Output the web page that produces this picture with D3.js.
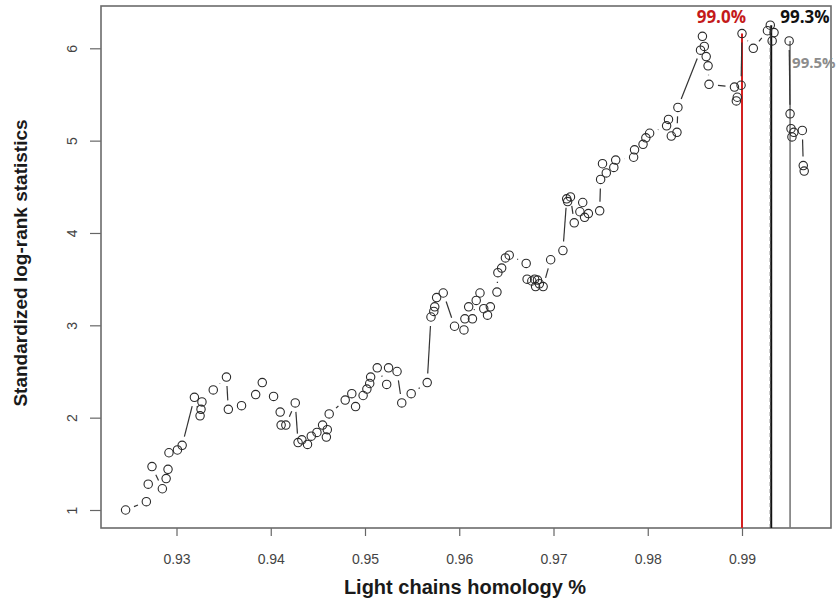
<!DOCTYPE html>
<html>
<head>
<meta charset="utf-8">
<script src="https://cdn.jsdelivr.net/npm/d3@7"></script>
<style>
  html, body { margin: 0; padding: 0; background: #fff; }
  svg { display: block; }
</style>
</head>
<body>
<svg id="chart" width="838" height="606"></svg>
<script>
// Light-chain homology cut-off vs standardized log-rank statistic
const homology = [
  0.9246, 0.9268, 0.9270, 0.9274, 0.9285, 0.9289, 0.9291, 0.9292, 0.9301, 0.9306,
  0.9319, 0.9325, 0.9326, 0.9327, 0.9339, 0.9353, 0.9355, 0.9369, 0.9384, 0.9391,
  0.9403, 0.9410, 0.9411, 0.9416, 0.9426, 0.9429, 0.9433, 0.9439, 0.9443, 0.9449,
  0.9455, 0.9459, 0.9460, 0.9462, 0.9479, 0.9486, 0.9490, 0.9498, 0.9502, 0.9505,
  0.9506, 0.9513, 0.9523, 0.9525, 0.9534, 0.9539, 0.9549, 0.9566, 0.9570, 0.9573,
  0.9574, 0.9576, 0.9583, 0.9595, 0.9605, 0.9606, 0.9610, 0.9614, 0.9618, 0.9622,
  0.9626, 0.9630, 0.9633, 0.9640, 0.9641, 0.9645, 0.9649, 0.9653, 0.9671, 0.9672,
  0.9677, 0.9680, 0.9681, 0.9683, 0.9685, 0.9689, 0.9697, 0.9710, 0.9714, 0.9715,
  0.9718, 0.9722, 0.9728, 0.9731, 0.9733, 0.9737, 0.9749, 0.9750, 0.9752, 0.9756,
  0.9764, 0.9766, 0.9785, 0.9786, 0.9795, 0.9798, 0.9802, 0.9820, 0.9822, 0.9825,
  0.9831, 0.9832, 0.9856, 0.9858, 0.9860, 0.9862, 0.9864, 0.9865, 0.9892, 0.9894,
  0.9895, 0.9899, 0.9900, 0.9912, 0.9927, 0.9930, 0.9932, 0.9934, 0.9950, 0.9951,
  0.9952, 0.9953, 0.9955, 0.9964, 0.9965, 0.9966
];
const logRank = [
  1.00, 1.09, 1.28, 1.47, 1.23, 1.34, 1.44, 1.62, 1.65, 1.70,
  2.22, 2.02, 2.09, 2.17, 2.30, 2.44, 2.09, 2.13, 2.25, 2.38,
  2.23, 2.06, 1.92, 1.92, 2.16, 1.73, 1.76, 1.71, 1.80, 1.84,
  1.92, 1.79, 1.87, 2.04, 2.19, 2.26, 2.12, 2.24, 2.31, 2.37,
  2.44, 2.54, 2.36, 2.54, 2.50, 2.16, 2.26, 2.38, 3.09, 3.15,
  3.20, 3.30, 3.35, 2.99, 2.95, 3.07, 3.20, 3.07, 3.27, 3.35,
  3.18, 3.11, 3.20, 3.36, 3.57, 3.62, 3.73, 3.76, 3.67, 3.50,
  3.48, 3.50, 3.42, 3.49, 3.45, 3.42, 3.71, 3.81, 4.37, 4.34,
  4.39, 4.11, 4.23, 4.33, 4.17, 4.21, 4.24, 4.58, 4.75, 4.65,
  4.71, 4.79, 4.82, 4.90, 4.96, 5.03, 5.08, 5.16, 5.23, 5.05,
  5.09, 5.36, 5.98, 6.13, 6.02, 5.91, 5.81, 5.61, 5.58, 5.43,
  5.47, 5.60, 6.16, 6.00, 6.19, 6.25, 6.08, 6.17, 6.08, 5.29,
  5.13, 5.04, 5.09, 5.11, 4.73, 4.67
];

// Highlighted cut-offs: position, label, height of the marker line
const cutoffs = [0.9900, 0.9931, 0.9951];
const cutoffLabels = ["99.0%", "99.3%", "99.5%"];
const cutoffTops = [6.16, 6.25, 6.08];

const xTicks = [0.93, 0.94, 0.95, 0.96, 0.97, 0.98, 0.99];
const yTicks = [1, 2, 3, 4, 5, 6];

const points = homology.map((h, i) => ({ x: h, y: logRank[i] }));

const svg = d3.select("#chart");
const frame = { left: 101, right: 831, top: 6, bottom: 528 };

const x = d3.scaleLinear().domain([0.93, 0.99]).range([176.5, 742]);
const y = d3.scaleLinear().domain([1, 6]).range([510, 48.3]);

const axisFont = "'Liberation Sans', Arial, sans-serif";

// Axes
const xAxis = svg.append("g")
  .attr("transform", `translate(0,${frame.bottom})`)
  .call(d3.axisBottom(x).tickValues(xTicks).tickFormat(d3.format(".2f")).tickSize(8).tickPadding(18));
const yAxis = svg.append("g")
  .attr("transform", `translate(${frame.left},0)`)
  .call(d3.axisLeft(y).tickValues(yTicks).tickFormat(d3.format("d")).tickSize(11).tickPadding(8));

[xAxis, yAxis].forEach(g => {
  g.select(".domain").remove();
  g.selectAll(".tick line").attr("stroke", "#666").attr("stroke-width", 1.2);
  g.selectAll(".tick text")
    .attr("fill", "#444")
    .style("font-family", axisFont)
    .style("font-size", "14px");
});
xAxis.selectAll(".tick text").attr("dy", "0.71em");
// rotated tick labels on the value axis
yAxis.selectAll(".tick text")
  .attr("text-anchor", "middle")
  .attr("x", 0)
  .attr("y", 0)
  .attr("dy", "0.35em")
  .attr("transform", "translate(-29,0) rotate(-90)");

// Plot frame
svg.append("rect")
  .attr("x", frame.left)
  .attr("y", frame.top)
  .attr("width", frame.right - frame.left)
  .attr("height", frame.bottom - frame.top)
  .attr("fill", "none")
  .attr("stroke", "#6b6b6b")
  .attr("stroke-width", 1.6);

// Cut-off marker lines
const cutColors = ["#d42020", "#111111", "#7a7a7a"];
const cutWidths = [2, 2, 1.6];
cutoffs.forEach((c, i) => {
  svg.append("line")
    .attr("x1", x(c)).attr("x2", x(c))
    .attr("y1", frame.bottom).attr("y2", y(cutoffTops[i]))
    .attr("stroke", cutColors[i])
    .attr("stroke-width", cutWidths[i]);
});
// dashed overlay on the 99.3% marker
svg.append("line")
  .attr("x1", x(cutoffs[1]) - 1).attr("x2", x(cutoffs[1]) - 1)
  .attr("y1", frame.bottom).attr("y2", y(cutoffTops[1]))
  .attr("stroke", "#555")
  .attr("stroke-width", 1)
  .attr("stroke-dasharray", "4,3");

// Connecting segments with gaps around each point (type "b" style)
const gap = 9;
const segs = [];
for (let i = 1; i < points.length; i++) {
  const x0 = x(points[i - 1].x), y0 = y(points[i - 1].y);
  const x1 = x(points[i].x), y1 = y(points[i].y);
  const d = Math.hypot(x1 - x0, y1 - y0);
  if (d > 2 * gap) {
    const ux = (x1 - x0) / d, uy = (y1 - y0) / d;
    segs.push([x0 + ux * gap, y0 + uy * gap, x1 - ux * gap, y1 - uy * gap]);
  }
}
svg.append("g")
  .selectAll("line")
  .data(segs)
  .join("line")
  .attr("x1", d => d[0]).attr("y1", d => d[1])
  .attr("x2", d => d[2]).attr("y2", d => d[3])
  .attr("stroke", "#333")
  .attr("stroke-width", 1.2);

// Points
svg.append("g")
  .selectAll("circle")
  .data(points)
  .join("circle")
  .attr("cx", d => x(d.x))
  .attr("cy", d => y(d.y))
  .attr("r", 4.2)
  .attr("fill", "none")
  .attr("stroke", "#2a2a2a")
  .attr("stroke-width", 1.1);

// Cut-off labels
const labelFont = "'Open Sans', 'Liberation Sans', sans-serif";
const labelColors = ["#c41a1a", "#111111", "#8c8c8c"];
const labelAnchor = ["end", "start", "start"];
const labelDx = [4, 9, 2];
const labelY = [17, 17, 63];
const labelSize = [17, 17, 15];
cutoffs.forEach((c, i) => {
  svg.append("text")
    .attr("x", x(c) + labelDx[i])
    .attr("y", labelY[i])
    .attr("dy", "0.35em")
    .attr("text-anchor", labelAnchor[i])
    .attr("fill", labelColors[i])
    .style("font-family", labelFont)
    .style("font-weight", "bold")
    .style("font-size", labelSize[i] + "px")
    .text(cutoffLabels[i]);
});

// Axis titles
svg.append("text")
  .attr("x", 465)
  .attr("y", 594)
  .attr("text-anchor", "middle")
  .attr("fill", "#1a1a1a")
  .style("font-family", axisFont)
  .style("font-weight", "bold")
  .style("font-size", "20px")
  .text("Light chains homology %");

svg.append("text")
  .attr("transform", "translate(27,263) rotate(-90)")
  .attr("text-anchor", "middle")
  .attr("fill", "#1a1a1a")
  .style("font-family", axisFont)
  .style("font-weight", "bold")
  .style("font-size", "19px")
  .text("Standardized log-rank statistics");
</script>
</body>
</html>
